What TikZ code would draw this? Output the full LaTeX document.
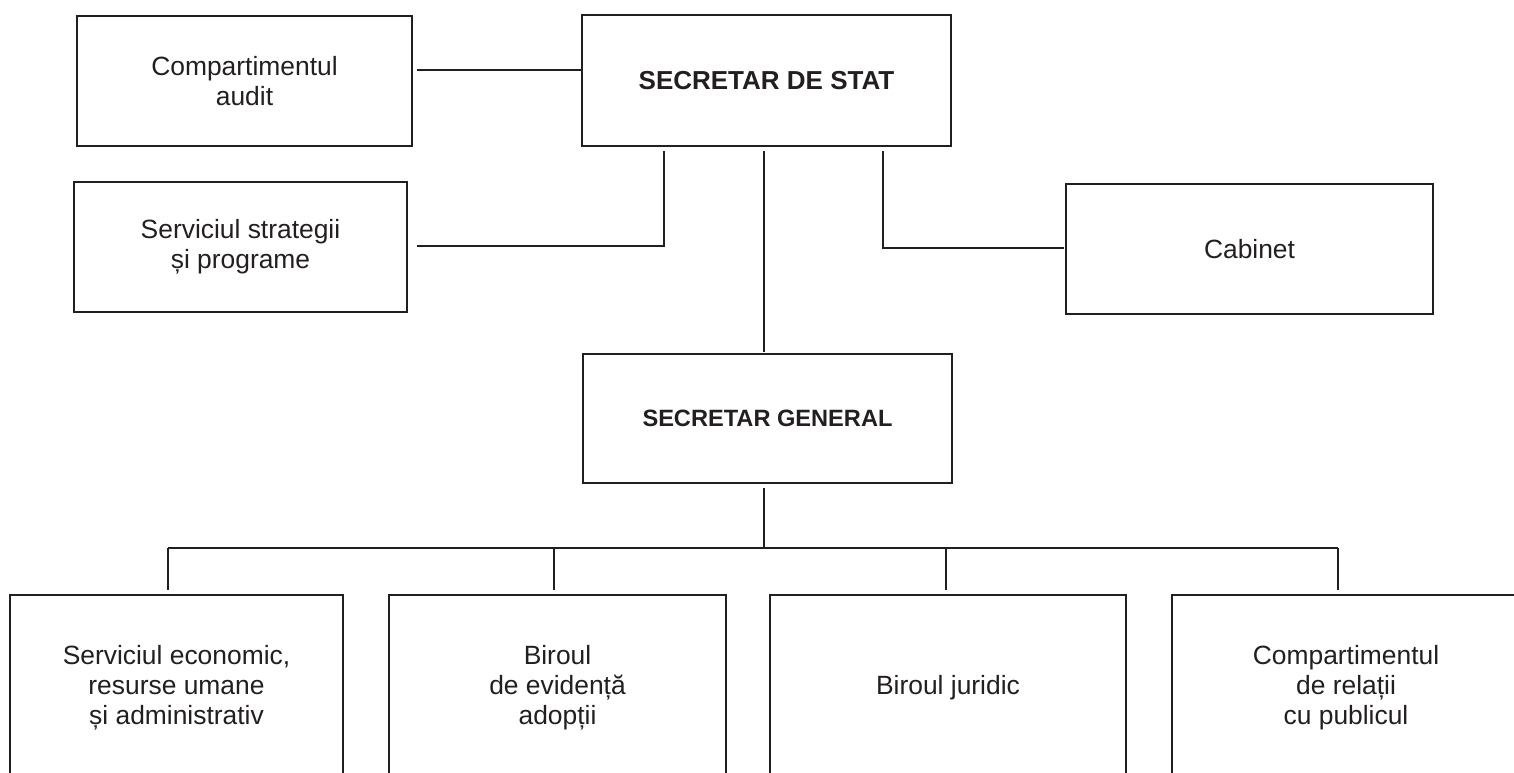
\documentclass[tikz,border=0pt]{standalone}
\usepackage{fontspec}
\setmainfont{Liberation Sans}
\usetikzlibrary{calc}
\definecolor{ink}{HTML}{231F20}
\begin{document}
\begin{tikzpicture}[x=1pt,y=-1pt,
  box/.style={draw=ink, line width=1.8pt, text=ink, align=center,
    inner sep=0pt, outer sep=0pt, font=\fontsize{26.4}{30}\selectfont},
  conn/.style={draw=ink, line width=1.8pt}]
\useasboundingbox (0,0) rectangle (1514,773);
\fill[white] (0,0) rectangle (1514,773);
\clip (0,0) rectangle (1514,773);

% top level
\node[box, minimum width=335pt, minimum height=130pt] (audit) at (244.5,81) {Compartimentul\\audit};
\node[box, minimum width=369pt, minimum height=131pt, font=\fontsize{26}{30}\selectfont\bfseries] (sds) at (766.5,80.5) {SECRETAR DE STAT};
\node[box, minimum width=333pt, minimum height=130pt] (strat) at (240.5,247) {Serviciul strategii\\și programe};
\node[box, minimum width=367pt, minimum height=130pt] (cab) at (1249.5,249) {Cabinet};
\node[box, minimum width=369pt, minimum height=129pt, font=\fontsize{23.6}{30}\selectfont\bfseries] (sg) at (767.5,418.5) {SECRETAR GENERAL};

% bottom level
\node[box, minimum width=333pt, minimum height=186pt] (b1) at (176.5,688) {Serviciul economic,\\resurse umane\\și administrativ};
\node[box, minimum width=337pt, minimum height=186pt] (b2) at (557.5,688) {Biroul\\de evidență\\adopții};
\node[box, minimum width=356pt, minimum height=186pt] (b3) at (948,688) {Biroul juridic};
\node[box, minimum width=348pt, minimum height=186pt] (b4) at (1346,688) {Compartimentul\\de relații\\cu publicul};

% connectors
\coordinate (a1) at ($(audit.east)+(5,-11)$);
\draw[conn] (a1) -- (a1 -| sds.west);

\coordinate (s1) at ($(strat.east)+(10,-1)$);
\coordinate (s2) at ($(sds.south)+(-102.5,5)$);
\draw[conn] (s1) -- (s1 -| s2) -- (s2);

\coordinate (c1) at ($(sds.south)+(-2.5,5)$);
\coordinate (c2) at ($(sg.north)+(-3.5,-2)$);
\draw[conn] (c1) -- (c2);

\coordinate (k1) at ($(sds.south)+(116.5,5)$);
\coordinate (k2) at ($(cab.west)+(-2,-1)$);
\draw[conn] (k1) |- (k2);

\coordinate (g1) at ($(sg.south)+(-3.5,5)$);
\coordinate (bus) at ($(g1)+(0,60)$);
\draw[conn] (g1) -- (bus);

\coordinate (d1) at ($(b1.north)+(-8.5,-5)$);
\coordinate (d2) at ($(b2.north)+(-3.5,-5)$);
\coordinate (d3) at ($(b3.north)+(-2,-5)$);
\coordinate (d4) at ($(b4.north)+(-8,-5)$);
\draw[conn] (d1 |- bus) -- (d4 |- bus);
\foreach \d in {d1,d2,d3,d4} \draw[conn] (\d |- bus) -- (\d);
\end{tikzpicture}
\end{document}
